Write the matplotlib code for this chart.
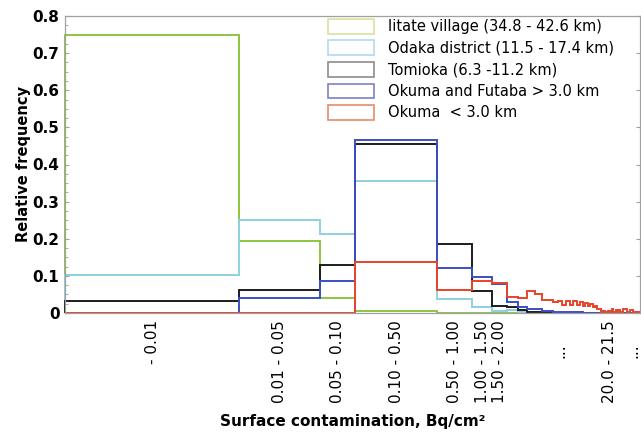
import matplotlib
matplotlib.use("Agg")
import matplotlib.pyplot as plt
from matplotlib.patches import Rectangle
from matplotlib.ticker import MultipleLocator, NullLocator
from matplotlib.transforms import ScaledTranslation

# границы интервалов, Bq/cm2
edges = [0.00032, 0.01, 0.05, 0.10, 0.50, 1.00, 1.50, 2.00,
         2.5, 3.0, 3.5, 4.0, 4.5, 5.0, 5.5, 6.0, 6.5, 7.0,
         7.5, 8.0, 8.5, 9.0, 9.5, 10.0, 10.5, 11.0, 11.5, 12.0,
         12.5, 13.0, 13.5, 14.0, 14.5, 15.0, 15.5, 16.0, 16.5, 17.0,
         17.5, 18.0, 18.5, 19.0, 19.5, 20.0,
         21.5, 23.0, 24.5, 26.0, 27.5]

# относительные частоты по районам (7 основных интервалов + 41 в хвосте)
iitate = [0.750, 0.194, 0.040, 0.006, 0.0, 0.0, 0.0,
          0, 0, 0, 0, 0, 0, 0, 0, 0, 0,
          0, 0, 0, 0, 0, 0, 0, 0, 0, 0,
          0, 0, 0, 0, 0, 0, 0, 0, 0, 0,
          0, 0, 0, 0, 0, 0, 0, 0, 0, 0,
          0]
odaka = [0.103, 0.251, 0.213, 0.355, 0.038, 0.017, 0.006,
         0.008, 0.004, 0.002, 0.001, 0, 0, 0, 0, 0, 0,
         0, 0, 0, 0, 0, 0, 0, 0, 0, 0,
         0, 0, 0, 0, 0, 0, 0, 0, 0, 0,
         0, 0, 0, 0, 0, 0, 0, 0, 0, 0,
         0]
tomioka = [0.032, 0.062, 0.129, 0.455, 0.185, 0.059, 0.019,
           0.015, 0.008, 0.004, 0.003, 0.002, 0.002, 0.001, 0.001, 0, 0,
           0, 0, 0, 0, 0, 0, 0, 0, 0, 0,
           0, 0, 0, 0, 0, 0, 0, 0, 0, 0,
           0, 0, 0, 0, 0, 0, 0, 0, 0, 0,
           0]
futaba = [0.0, 0.040, 0.087, 0.465, 0.122, 0.098, 0.078,
          0.030, 0.016, 0.012, 0.010, 0.006, 0.005, 0.004, 0.004, 0.003, 0.003,
          0.002, 0.002, 0.002, 0.002, 0.001, 0.001, 0.001, 0.001, 0.001, 0.001,
          0, 0, 0, 0, 0, 0, 0, 0, 0, 0,
          0, 0, 0, 0, 0, 0, 0, 0, 0, 0,
          0]
okuma = [0.0, 0.0, 0.0, 0.137, 0.062, 0.086, 0.080,
         0.042, 0.040, 0.058, 0.052, 0.036, 0.036, 0.030, 0.033, 0.022, 0.032,
         0.021, 0.031, 0.021, 0.029, 0.020, 0.027, 0.019, 0.024, 0.015, 0.018,
         0.010, 0.012, 0.004, 0.006, 0.003, 0.002, 0.006, 0.002, 0.010, 0.002,
         0.003, 0.008, 0.002, 0.009, 0.003, 0.003, 0.010, 0.002, 0.009, 0.002,
         0.002]

names = ["Iitate village (34.8 - 42.6 km)",
         "Odaka district (11.5 - 17.4 km)",
         "Tomioka (6.3 -11.2 km)",
         "Okuma and Futaba > 3.0 km",
         "Okuma  < 3.0 km"]

tick_labels = ["- 0.01", "0.01 - 0.05", "0.05 - 0.10", "0.10 - 0.50",
               "0.50 - 1.00", "1.00 - 1.50", "1.50 - 2.00",
               "...", "20.0 - 21.5", "..."]
tick_at = [0.0018, 0.0224, 0.0707, 0.224, 0.707, 1.23, 1.75, 5.7, 15.2, 24.5]

line_colors = ["#8cc63e", "#8fd0e2", "#1c1c1c", "#3b4fc2", "#e8432b"]
legend_colors = ["#d3e69c", "#b4d8f0", "#8c8c8c", "#7f80c6", "#e88c6a"]

fig = plt.figure(figsize=(6.41, 4.33), dpi=100)
ax = fig.add_axes([65 / 641, 1 - 313 / 433, 575 / 641, 297 / 433])

series = [iitate, odaka, tomioka, futaba, okuma]
for vals, c in zip(series, line_colors):
    ax.stairs(vals, edges, color=c, lw=1.4, baseline=0, clip_on=False)

ax.set_xscale("log")
ax.set_xlim(0.00032, 28)
ax.set_ylim(0, 0.8)

for s in ax.spines.values():
    s.set_color("#a0a0a0")
    s.set_linewidth(0.9)

# ось y
ax.yaxis.set_major_locator(MultipleLocator(0.1))
ax.yaxis.set_minor_locator(MultipleLocator(0.025))
ax.set_yticks([0, 0.1, 0.2, 0.3, 0.4, 0.5, 0.6, 0.7, 0.8],
              ["0", "0.1", "0.2", "0.3", "0.4", "0.5", "0.6", "0.7", "0.8"])
ax.tick_params(axis="y", which="both", direction="in", color="#a0a0a0",
               right=True, labelsize=11, pad=4)
ax.tick_params(axis="y", which="major", length=3)
ax.tick_params(axis="y", which="minor", length=2, right=False)
for t in ax.get_yticklabels():
    t.set_fontweight("bold")

# ось x
ax.xaxis.set_minor_locator(NullLocator())
ax.tick_params(axis="x", which="both", length=0, pad=5)
ax.set_xticks(tick_at, tick_labels, rotation=90, va="top", ha="center",
              fontsize=11)
for t in ax.get_xticklabels():
    if t.get_text() == "...":
        t.set_transform(t.get_transform() +
                        ScaledTranslation(0, -17 / 72, fig.dpi_scale_trans))

ax.set_ylabel("Relative frequency", fontsize=10.5, fontweight="bold", labelpad=1)
ax.set_xlabel("Surface contamination, Bq/cm²", fontsize=11, fontweight="bold",
              labelpad=8)

# легенда
handles = [Rectangle((0, 0), 1, 1, facecolor="none", edgecolor=c, lw=1.2)
           for c in legend_colors]
ax.legend(handles, names, loc="upper left", bbox_to_anchor=(0.457, 0.99),
          frameon=False, fontsize=10.5, handlelength=3.2, handleheight=1.2,
          labelspacing=0.42, handletextpad=0.9, borderpad=0, borderaxespad=0)

fig.savefig("out.png", dpi=100)
